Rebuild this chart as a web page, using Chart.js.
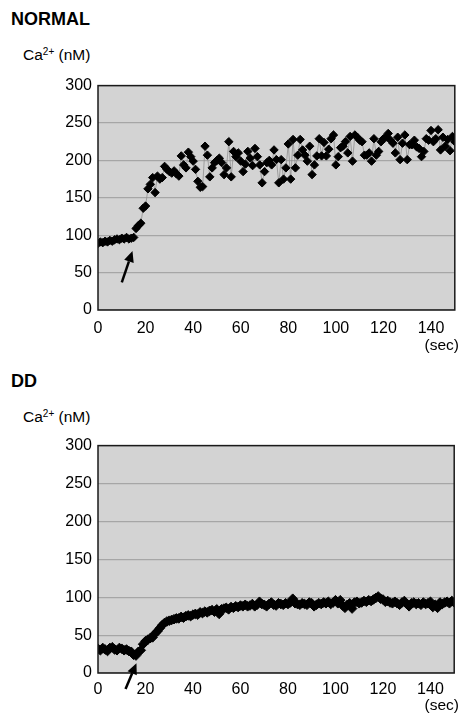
<!DOCTYPE html>
<html>
<head>
<meta charset="utf-8">
<script src="https://cdn.jsdelivr.net/npm/chart.js@4"></script>
<style>
  body { margin: 0; background: #fff; font-family: "Liberation Sans", Arial, sans-serif; color: #000; }
  #page { position: relative; width: 460px; height: 713px; overflow: hidden; }
  .txt { position: absolute; line-height: 1; white-space: nowrap; z-index: 2; }
  .title { left: 11px; font-weight: bold; font-size: 18px; }
  .unit { left: 23px; font-size: 15.5px; }
  .unit sup { font-size: 10px; vertical-align: 5px; line-height: 0; }
  .sec { right: 1px; font-size: 15.5px; }
  .box { position: absolute; left: 0; width: 460px; height: 270px; z-index: 1; }
</style>
</head>
<body>
<div id="page">
  <div class="txt title" style="top:10px">NORMAL</div>
  <div class="txt unit" style="top:47px">Ca<sup>2+</sup> (nM)</div>
  <div class="box" style="top:70px"><canvas id="normalChart" width="460" height="270"></canvas></div>
  <div class="txt sec" style="top:337px">(sec)</div>

  <div class="txt title" style="top:372px">DD</div>
  <div class="txt unit" style="top:409px">Ca<sup>2+</sup> (nM)</div>
  <div class="box" style="top:430px"><canvas id="ddChart" width="460" height="270"></canvas></div>
  <div class="txt sec" style="top:697px">(sec)</div>
</div>

<script>
// sample times (sec)
const seconds = [
  0,1,2,3,4,5,6,7,8,9,10,11,12,13,14,15,16,17,18,19,20,21,22,23,24,25,26,27,28,29,
  30,31,32,33,34,35,36,37,38,39,40,41,42,43,44,45,46,47,48,49,50,51,52,53,54,55,56,57,58,59,
  60,61,62,63,64,65,66,67,68,69,70,71,72,73,74,75,76,77,78,79,80,81,82,83,84,85,86,87,88,89,
  90,91,92,93,94,95,96,97,98,99,100,101,102,103,104,105,106,107,108,109,110,111,112,113,114,115,116,117,118,119,
  120,121,122,123,124,125,126,127,128,129,130,131,132,133,134,135,136,137,138,139,140,141,142,143,144,145,146,147,148,149,150
];

// Ca2+ (nM), NORMAL
const normalCa = [
  89,91,90,92,91,93,92,94,95,94,96,95,97,95,96,97,109,113,116,136,139,162,168,177,157,179,175,177,192,188,
  185,183,186,182,179,206,194,190,211,205,199,188,172,164,165,219,207,178,190,197,200,203,197,181,190,225,178,212,205,210,
  199,185,195,212,203,193,216,205,194,170,185,197,200,194,214,201,170,201,175,190,222,175,228,190,207,228,214,207,199,219,
  181,194,206,229,206,224,206,215,229,234,194,205,217,219,225,210,232,199,234,231,227,225,207,207,210,199,229,207,212,225,
  229,231,236,227,223,210,231,201,223,234,201,221,221,227,218,216,205,212,229,227,240,225,229,241,214,231,219,228,213,232,225
];

// Ca2+ (nM), DD
const ddCa = [
  32,30,33,31,29,33,34,31,30,33,32,30,31,29,28,24,23,28,30,38,42,44,46,47,52,55,59,63,66,68,
  69,70,71,72,72,74,73,75,76,75,77,78,77,80,79,81,80,82,83,81,84,78,84,85,86,84,87,86,88,87,
  89,88,90,88,89,91,88,90,94,91,90,88,91,93,90,89,92,91,90,92,91,93,98,92,91,90,92,91,90,93,
  92,88,90,92,91,93,92,94,91,93,96,92,96,89,86,90,92,85,93,94,92,93,95,94,96,95,97,99,101,98,
  97,94,95,93,92,94,92,90,93,95,91,88,92,93,91,92,90,93,91,92,94,87,90,86,93,91,93,94,92,95,93
];

const xTicks = [0, 20, 40, 60, 80, 100, 120, 140];
const yTicks = [0, 50, 100, 150, 200, 250, 300];

// stimulus arrows: [tail, tip] in (sec, nM)
const normalArrow = [[10, 37], [14.5, 79]];
const ddArrow = [[11.6, -21], [16.2, 13]];

const FONT = '"Liberation Sans", Arial, sans-serif';

const panelPlugin = {
  id: 'panel',
  beforeDraw(chart) {
    const a = chart.chartArea, c = chart.ctx;
    c.save();
    c.fillStyle = '#d3d3d3';
    c.fillRect(a.left, a.top, a.right - a.left, a.bottom - a.top);
    c.restore();
  },
  afterDraw(chart) {
    const a = chart.chartArea, c = chart.ctx;
    c.save();
    c.strokeStyle = '#1a1a1a';
    c.lineWidth = 1.5;
    c.strokeRect(a.left, a.top, a.right - a.left, a.bottom - a.top);

    const arrow = chart.options.plugins.panel.arrow;
    const xs = chart.scales.x, ys = chart.scales.y;
    const x0 = xs.getPixelForValue(arrow[0][0]), y0 = ys.getPixelForValue(arrow[0][1]);
    const x1 = xs.getPixelForValue(arrow[1][0]), y1 = ys.getPixelForValue(arrow[1][1]);
    const ang = Math.atan2(y1 - y0, x1 - x0);
    const head = 11, half = 5;
    const bx = x1 - head * Math.cos(ang), by = y1 - head * Math.sin(ang);
    c.strokeStyle = '#000';
    c.fillStyle = '#000';
    c.lineWidth = 2.5;
    c.beginPath();
    c.moveTo(x0, y0);
    c.lineTo(bx, by);
    c.stroke();
    c.beginPath();
    c.moveTo(x1, y1);
    c.lineTo(bx + half * Math.sin(ang), by - half * Math.cos(ang));
    c.lineTo(bx - half * Math.sin(ang), by + half * Math.cos(ang));
    c.closePath();
    c.fill();
    c.restore();
  }
};

function makeChart(id, values, arrow, padTop, axisH, labelPad, radius) {
  return new Chart(document.getElementById(id), {
    type: 'line',
    data: {
      datasets: [{
        data: seconds.map((s, i) => ({ x: s, y: values[i] })),
        borderColor: '#8f8f8f',
        borderWidth: 0.8,
        pointStyle: 'rectRot',
        pointRadius: radius,
        pointBackgroundColor: '#000',
        pointBorderColor: '#000',
        pointBorderWidth: 1,
        tension: 0
      }]
    },
    options: {
      responsive: false,
      animation: false,
      events: [],
      layout: { padding: { top: padTop, right: 2, left: 0, bottom: 0 } },
      plugins: {
        legend: { display: false },
        tooltip: { enabled: false },
        panel: { arrow: arrow }
      },
      scales: {
        x: {
          type: 'linear',
          min: 0,
          max: 150,
          grid: { display: false, drawTicks: false },
          border: { display: false },
          afterBuildTicks: s => { s.ticks = xTicks.map(v => ({ value: v })); },
          afterFit: s => { s.height = axisH; },
          ticks: { color: '#000', padding: labelPad, maxRotation: 0, font: { family: FONT, size: 16 } }
        },
        y: {
          min: 0,
          max: 300,
          grid: { color: '#a6a6a6', lineWidth: 1.2, drawTicks: false },
          border: { display: false },
          afterBuildTicks: s => { s.ticks = yTicks.map(v => ({ value: v })); },
          afterFit: s => { s.width = 98; },
          ticks: { color: '#000', padding: 6, font: { family: FONT, size: 16 } }
        }
      }
    },
    plugins: [panelPlugin]
  });
}

makeChart('normalChart', normalCa, normalArrow, 11, 30, 9, 4.2);
makeChart('ddChart', ddCa, ddArrow, 13, 27, 7, 4.8);
</script>
</body>
</html>
